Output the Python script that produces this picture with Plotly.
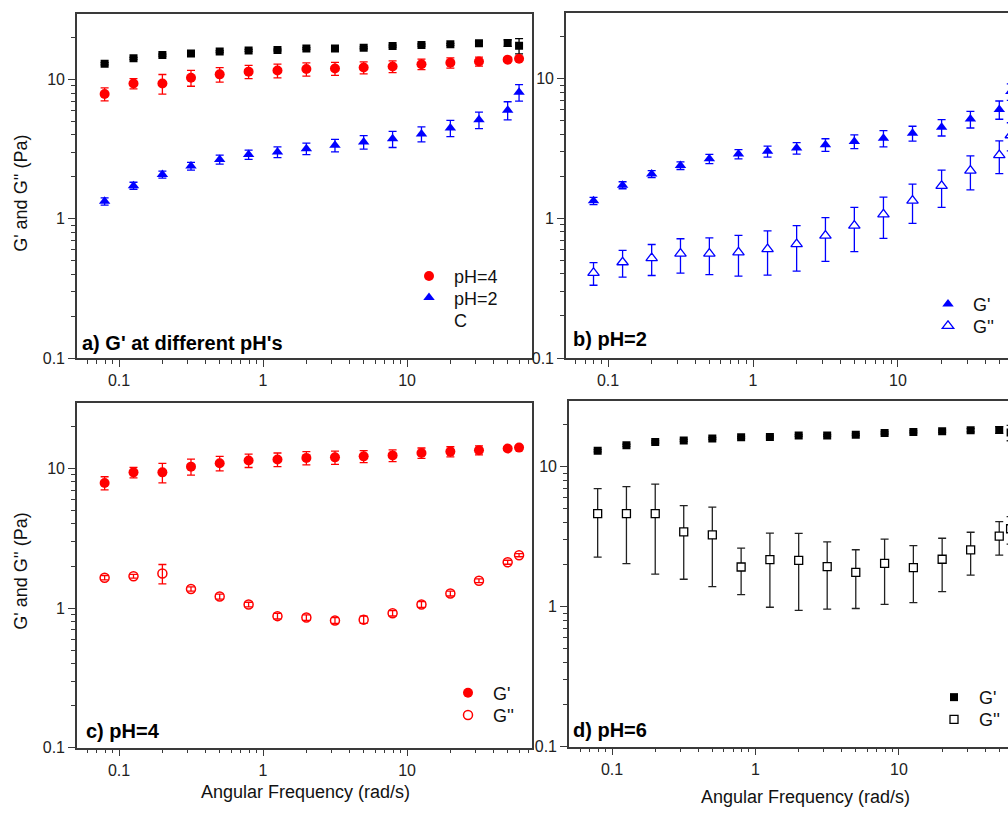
import plotly.graph_objects as go

# Angular frequency (rad/s) shared by every sweep
freq = [0.0794, 0.126, 0.2, 0.316, 0.5, 0.794, 1.26, 2.0, 3.16, 5.0, 7.94, 12.6, 20.0, 31.6, 50.0, 60.0]

# pH = 6 (control, C)
g1_ph6 = [12.98, 14.2, 15.0, 15.4, 15.9, 16.2, 16.3, 16.7, 16.7, 16.9, 17.4, 17.7, 17.9, 18.2, 18.3, 17.5]
g1_ph6_err = [0.25, 0.25, 0.25, 0.25, 0.25, 0.25, 0.25, 0.25, 0.25, 0.25, 0.3, 0.3, 0.3, 0.5, 1.0, 2.2]
g2_ph6 = [4.61, 4.61, 4.61, 3.42, 3.26, 1.92, 2.17, 2.14, 1.93, 1.76, 2.04, 1.90, 2.18, 2.54, 3.19, 3.6]
g2_ph6_err = [2.35, 2.58, 2.9, 1.85, 1.87, 0.7, 1.18, 1.2, 0.97, 0.79, 1.0, 0.83, 0.9, 0.86, 0.86, 0.8]

# pH = 4
g1_ph4 = [7.87, 9.37, 9.37, 10.3, 10.9, 11.4, 11.6, 11.9, 12.0, 12.2, 12.4, 12.9, 13.2, 13.5, 13.9, 14.1]
g1_ph4_err = [0.85, 0.8, 1.5, 1.35, 1.3, 1.25, 1.3, 1.3, 1.3, 1.2, 1.2, 1.1, 1.1, 1.0, 0.3, 0.3]
g2_ph4 = [1.65, 1.69, 1.77, 1.37, 1.21, 1.06, 0.875, 0.855, 0.815, 0.826, 0.917, 1.06, 1.27, 1.57, 2.13, 2.39]
g2_ph4_err = [0.06, 0.05, 0.28, 0.05, 0.05, 0.04, 0.04, 0.04, 0.04, 0.05, 0.04, 0.05, 0.05, 0.05, 0.07, 0.06]

# pH = 2
g1_ph2 = [1.335, 1.73, 2.08, 2.39, 2.67, 2.89, 3.02, 3.19, 3.37, 3.56, 3.75, 4.07, 4.49, 5.14, 6.03, 8.1]
g1_ph2_err = [0.08, 0.1, 0.12, 0.15, 0.2, 0.22, 0.27, 0.3, 0.35, 0.4, 0.5, 0.5, 0.6, 0.7, 0.9, 1.1]
g2_ph2 = [0.407, 0.485, 0.52, 0.56, 0.56, 0.571, 0.603, 0.654, 0.753, 0.888, 1.07, 1.34, 1.71, 2.2, 2.84, 3.94]
g2_ph2_err = [0.075, 0.105, 0.13, 0.155, 0.165, 0.185, 0.21, 0.235, 0.26, 0.31, 0.35, 0.42, 0.51, 0.6, 0.75, 0.9]

major_ticks = [0.1, 1, 10]
major_labels = ["0.1", "1", "10"]

RED = "#ff0000"
BLUE = "#0000ff"
BLACK = "#000000"
FONT = "Liberation Sans, Arial, sans-serif"
W, H = 1008, 818


def err(values, color):
    return dict(type="data", array=values, visible=True, color=color, thickness=1.3, width=4)


# one legend box per entry so each key line sits exactly where it belongs
legend_slots = {
    "legend": (404, 277.7),    # pH=4
    "legend2": (404, 299.5),   # pH=2
    "legend3": (404, 322.5),   # C
    "legend4": (923, 306),     # (b) G'
    "legend5": (923, 328),     # (b) G''
    "legend6": (443, 699),     # (c) G'
    "legend7": (443, 721.5),   # (c) G''
    "legend8": (929, 703.5),   # (d) G'
    "legend9": (929, 726),     # (d) G''
}

fig = go.Figure()

# (a) storage modulus at the three pH values
fig.add_trace(go.Scatter(x=freq, y=g1_ph6, mode="markers", xaxis="x", yaxis="y", showlegend=False,
                         marker=dict(symbol="square", size=8, color=BLACK),
                         error_y=err(g1_ph6_err, BLACK)))
fig.add_trace(go.Scatter(x=freq, y=g1_ph4, mode="markers", xaxis="x", yaxis="y", name="pH=4", legend="legend",
                         marker=dict(symbol="circle", size=10, color=RED),
                         error_y=err(g1_ph4_err, RED)))
fig.add_trace(go.Scatter(x=freq, y=g1_ph2, mode="markers", xaxis="x", yaxis="y", name="pH=2", legend="legend2",
                         marker=dict(symbol="triangle-up", size=10, color=BLUE),
                         error_y=err(g1_ph2_err, BLUE)))
fig.add_trace(go.Scatter(x=[None], y=[None], mode="markers", xaxis="x", yaxis="y", name="C", legend="legend3",
                         marker=dict(symbol="square", size=8, color="rgba(0,0,0,0)")))

# (b) pH = 2
fig.add_trace(go.Scatter(x=freq, y=g1_ph2, mode="markers", xaxis="x2", yaxis="y2", name="G'", legend="legend4",
                         marker=dict(symbol="triangle-up", size=10, color=BLUE),
                         error_y=err(g1_ph2_err, BLUE)))
fig.add_trace(go.Scatter(x=freq, y=g2_ph2, mode="markers", xaxis="x2", yaxis="y2", name="G''", legend="legend5",
                         marker=dict(symbol="triangle-up", size=10, color="white", line=dict(color=BLUE, width=1.3)),
                         error_y=err(g2_ph2_err, BLUE)))

# (c) pH = 4
fig.add_trace(go.Scatter(x=freq, y=g1_ph4, mode="markers", xaxis="x3", yaxis="y3", name="G'", legend="legend6",
                         marker=dict(symbol="circle", size=10, color=RED),
                         error_y=err(g1_ph4_err, RED)))
fig.add_trace(go.Scatter(x=freq, y=g2_ph4, mode="markers", xaxis="x3", yaxis="y3", name="G''", legend="legend7",
                         marker=dict(symbol="circle-open", size=9, color=RED, line=dict(color=RED, width=1.5)),
                         error_y=err(g2_ph4_err, RED)))

# (d) pH = 6
fig.add_trace(go.Scatter(x=freq, y=g1_ph6, mode="markers", xaxis="x4", yaxis="y4", name="G'", legend="legend8",
                         marker=dict(symbol="square", size=8, color=BLACK),
                         error_y=err(g1_ph6_err, "#222222")))
fig.add_trace(go.Scatter(x=freq, y=g2_ph6, mode="markers", xaxis="x4", yaxis="y4", name="G''", legend="legend9",
                         marker=dict(symbol="square", size=8, color="white", line=dict(color=BLACK, width=1.3)),
                         error_y=err(g2_ph6_err, "#222222")))

minor_vals = [m * 10.0 ** e for e in range(-2, 3) for m in range(2, 10)]


def px_x(a, b):
    return [a / W, b / W]


def px_y(top, bottom):
    return [1 - bottom / H, 1 - top / H]


def axis(domain, rng, anchor, mirror, labels=True):
    return dict(
        type="log", domain=domain, range=rng, anchor=anchor,
        showline=True, linecolor="#3a3a3a", linewidth=1.6, mirror=mirror,
        ticks="outside", ticklen=7, tickwidth=1.3, tickcolor="#3a3a3a",
        tickmode="array", tickvals=major_ticks, ticktext=major_labels, showticklabels=labels,
        tickfont=dict(family=FONT, size=16, color="#222222"),
        minor=dict(tickmode="array", tickvals=minor_vals, ticks="outside", ticklen=4,
                   tickwidth=1.2, tickcolor="#3a3a3a", showgrid=False),
        showgrid=False, zeroline=False,
    )


y_rng = [-1, 1.472]

layout = dict(
    width=W, height=H,
    margin=dict(l=0, r=0, t=0, b=0),
    paper_bgcolor="white", plot_bgcolor="white",
    font=dict(family=FONT, size=16, color="#111111"),
    xaxis=axis(px_x(77, 532), [-1.292, 1.868], "y", True),
    yaxis=axis(px_y(14, 362), y_rng, "x", True),
    xaxis2=axis(px_x(566, 1008), [-1.29, 1.759], "y2", True),
    yaxis2=axis(px_y(13, 362), y_rng, "x2", False),
    xaxis3=axis(px_x(77, 532), [-1.292, 1.868], "y3", True),
    yaxis3=axis(px_y(407, 756), y_rng, "x3", True),
    xaxis4=axis(px_x(569, 1008), [-1.30, 1.76], "y4", True),
    yaxis4=axis(px_y(405, 755), y_rng, "x4", False),
)

legend_style = dict(bgcolor="rgba(0,0,0,0)", borderwidth=0, font=dict(family=FONT, size=18, color="#111111"),
                    xanchor="left", yanchor="top", itemwidth=40)
for key, (lx, ly) in legend_slots.items():
    layout[key] = dict(legend_style, x=lx / W, y=1 - (ly - 17) / H)

fig.update_layout(**layout)

panel_labels = [
    ("a) G' at different pH's", 80, 347),
    ("b) pH=2", 571, 343),
    ("c) pH=4", 84, 739),
    ("d) pH=6", 571, 738),
]
for text, x, y in panel_labels:
    fig.add_annotation(text=f"<b>{text}</b>", x=x / W, y=1 - y / H, xref="paper", yref="paper",
                       xanchor="left", yanchor="middle", showarrow=False,
                       font=dict(family=FONT, size=20, color="#000000"))

for y in (196, 578):
    fig.add_annotation(text="G' and G'' (Pa)", x=21 / W, y=1 - y / H, xref="paper", yref="paper",
                       textangle=-90, showarrow=False, xanchor="center", yanchor="middle",
                       font=dict(family=FONT, size=18, color="#111111"))

for x, y in ((305, 801), (805, 806)):
    fig.add_annotation(text="Angular Frequency (rad/s)", x=x / W, y=1 - y / H, xref="paper", yref="paper",
                       showarrow=False, xanchor="center", yanchor="middle",
                       font=dict(family=FONT, size=18, color="#111111"))

fig.write_html("out.html")
